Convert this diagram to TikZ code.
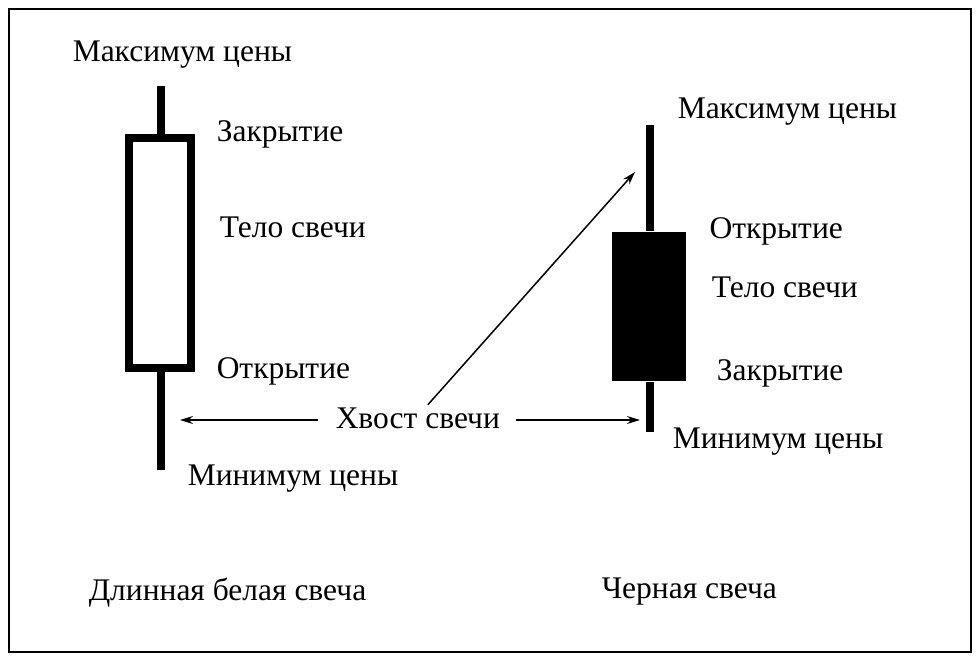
\documentclass[tikz,border=0pt]{standalone}
\usepackage{fontspec}
\setmainfont{Liberation Serif}
\usepackage{tikz}
\usetikzlibrary{arrows.meta}
\usetikzlibrary{calc}
\usetikzlibrary{positioning}

\begin{document}
\begin{tikzpicture}[x=1pt,y=-1pt,->,>={Stealth[length=13pt,width=8pt]},line width=1.5pt]
  \tikzstyle{every node}=[font=\fontsize{31.5}{36}\selectfont, inner sep=0pt, anchor=west]
  \tikzstyle{wick}=[-, line width=8pt]
  \tikzstyle{body}=[anchor=center, minimum width=66pt, minimum height=234pt]
  \useasboundingbox (0,0) rectangle (980,662);
  \draw[-, line width=2pt] (9,9) rectangle (971,652);

  \node[body, draw, line width=8pt, minimum width=62pt, minimum height=230pt] (W) at (160,253) {};
  \node[body, fill=black, minimum width=74pt, minimum height=149pt] (K) at (649,306.5) {};
  \coordinate (WT) at (161,86);
  \coordinate (WB) at (161,470);
  \coordinate (KT) at (650,125);
  \coordinate (KB) at (650,432);
  \draw[wick] (WT) -- (WT |- W.north);
  \draw[wick] (WB) -- (WB |- W.south);
  \draw[wick] (KT) -- (KT |- K.north);
  \draw[wick] (KB) -- (KB |- K.south);

  \node (A) at (72,55) {Максимум цены};
  \node (B) [right=21pt of W.north east] {Закрытие};
  \node (C) at (219,227) {Тело свечи};
  \node (D) at (216,371) {Открытие};
  \node (E) at (187,479) {Минимум цены};
  \node (F) at (88,593) {Длинная белая свеча};

  \node (G) at (677,112) {Максимум цены};
  \node (H) [right=22pt of K.north east] {Открытие};
  \node (I) at (711,287) {Тело свечи};
  \node (J) at (716,373) {Закрытие};
  \node (L) at (672,442) {Минимум цены};
  \node (M) at (601,592) {Черная свеча};

  \node (T) at (335,418) {Хвост свечи};
  \coordinate (P) at (180,420);
  \coordinate (Q) at (640,420);
  \coordinate (R) at (635,172);
  \draw[shorten <=17pt] (T.west |- P) -- (P);
  \draw[shorten <=15pt] (T.east |- Q) -- (Q);
  \draw ($(T.north)+(10,-2)$) -- (R);
\end{tikzpicture}
\end{document}
